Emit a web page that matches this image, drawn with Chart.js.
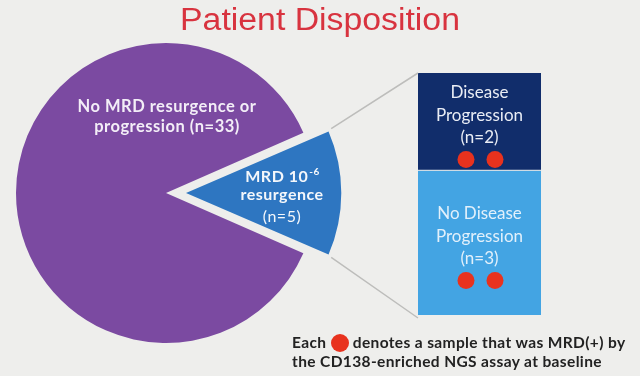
<!DOCTYPE html>
<html>
<head>
<meta charset="utf-8">
<script src="https://cdn.jsdelivr.net/npm/chart.js@4.4.0/dist/chart.umd.min.js"></script>
<style>
  html, body { margin: 0; padding: 0; background: #eeeeec; }
  #wrap { position: relative; width: 640px; height: 376px; overflow: hidden; background: #eeeeec; }
  canvas { position: absolute; left: 0; top: 0; }
  #titulo { position: absolute; left: 0; top: 4px; width: 640px; text-align: center;
    font-family: "Liberation Sans", Arial, sans-serif; font-size: 31px; line-height: 31px;
    color: #d8333f; transform: scaleX(1.09); }
  #nota { position: absolute; left: 292px; top: 333px; font-family: Lato, sans-serif;
    font-weight: bold; font-size: 15.5px; line-height: 19px; letter-spacing: 0.37px;
    color: #222; white-space: nowrap; }
  .ponto { display: inline-block; width: 18px; height: 18px; border-radius: 50%;
    background: #e8321e; vertical-align: -4px; }
</style>
</head>
<body>
<div id="wrap">
  <canvas id="barras" width="640" height="376"></canvas>
  <canvas id="pizza" width="640" height="376"></canvas>
  <div id="titulo">Patient Disposition</div>
  <div id="nota">Each <span class="ponto"></span> denotes a sample that was MRD(+) by<br>the CD138-enriched NGS assay at baseline</div>
</div>
<script>
// dados do gráfico
const pieLabels = ["No MRD resurgence or progression", "MRD 10⁻⁶ resurgence"];
const pieValues = [33, 5];
const barLabels = ["No Disease Progression", "Disease Progression"];
const barValues = [3, 2];
const mrdPositivos = [2, 2]; // pontos vermelhos em cada grupo

const totalPie = pieValues.reduce((a, b) => a + b, 0);
const totalBar = barValues.reduce((a, b) => a + b, 0);

// textos e pontos dentro das barras
const textoBarras = {
    id: "textoBarras",
    afterDatasetsDraw(chart) {
        const ctx = chart.ctx;
        const cores = ["#e2f0fb", "#e9edf5"];
        ctx.save();
        ctx.textAlign = "center";
        ctx.textBaseline = "middle";
        ctx.font = "17px Lato";
        chart.data.datasets.forEach((ds, i) => {
            const bar = chart.getDatasetMeta(i).data[0];
            const meio = (bar.y + bar.base) / 2;
            const palavras = ds.label.split(" ");
            const linhas = [
                palavras.slice(0, -1).join(" "),
                palavras[palavras.length - 1],
                "(n=" + ds.data[0] + ")"
            ];
            ctx.fillStyle = cores[i];
            linhas.forEach((t, k) => ctx.fillText(t, bar.x, meio - 6 + (k - 1) * 22.5));

            ctx.fillStyle = "#e8321e";
            const n = mrdPositivos[i];
            for (let k = 0; k < n; k++) {
                const px = bar.x + 1 + (k - (n - 1) / 2) * 29;
                ctx.beginPath();
                ctx.arc(px, meio + 38, 8.5, 0, Math.PI * 2);
                ctx.fill();
            }
        });
        ctx.restore();
    }
};

const barChart = new Chart(document.getElementById("barras"), {
    type: "bar",
    data: {
        labels: ["MRD resurgence"],
        datasets: [
            {
                label: barLabels[0],
                data: [barValues[0]],
                backgroundColor: "#43a4e3",
                borderColor: "#cfdbe4",
                borderWidth: { top: 1.5, right: 0, bottom: 0, left: 0 },
                borderSkipped: false,
                barPercentage: 1,
                categoryPercentage: 1
            },
            {
                label: barLabels[1],
                data: [barValues[1]],
                backgroundColor: "#112d6b",
                barPercentage: 1,
                categoryPercentage: 1
            }
        ]
    },
    options: {
        responsive: false,
        animation: false,
        layout: { padding: { left: 418, right: 99, top: 73, bottom: 61 } },
        scales: {
            x: { stacked: true, display: false },
            y: { stacked: true, display: false, min: 0, max: totalBar }
        },
        plugins: { legend: { display: false }, tooltip: { enabled: false } }
    },
    plugins: [textoBarras]
});

// cantos da fatia destacada
function cantosFatia(arc) {
    const off = (arc.options.offset || 0) / 4;
    const meioAng = (arc.startAngle + arc.endAngle) / 2;
    const ox = arc.x + Math.cos(meioAng) * off;
    const oy = arc.y + Math.sin(meioAng) * off;
    const fix = 1 - Math.sin(Math.min(Math.PI, arc.circumference));
    const r = arc.outerRadius + off * fix;
    return {
        ox, oy,
        cima: [ox + r * Math.cos(arc.startAngle), oy + r * Math.sin(arc.startAngle)],
        baixo: [ox + r * Math.cos(arc.endAngle), oy + r * Math.sin(arc.endAngle)]
    };
}

const conectores = {
    id: "conectores",
    afterDatasetsDraw(chart) {
        const ctx = chart.ctx;
        const c = cantosFatia(chart.getDatasetMeta(0).data[1]);
        const b0 = barChart.getDatasetMeta(0).data[0];
        const b1 = barChart.getDatasetMeta(1).data[0];
        const esq = b1.x - b1.width / 2;
        ctx.save();
        ctx.strokeStyle = "#bdbdbb";
        ctx.lineWidth = 1.5;
        ctx.beginPath();
        ctx.moveTo(c.cima[0] + 3, c.cima[1] - 2);
        ctx.lineTo(esq, b1.y);
        ctx.moveTo(c.baixo[0] + 3, c.baixo[1] + 2);
        ctx.lineTo(esq, b0.base + 3);
        ctx.stroke();
        ctx.restore();
    }
};

const textoPizza = {
    id: "textoPizza",
    afterDatasetsDraw(chart) {
        const ctx = chart.ctx;
        const roxo = chart.getDatasetMeta(0).data[0];
        ctx.save();
        ctx.textAlign = "center";
        ctx.textBaseline = "middle";
        ctx.letterSpacing = "0.5px";
        ctx.fillStyle = "#f3eef7";
        ctx.font = "bold 16.5px Lato";
        const palavras = pieLabels[0].split(" ");
        ctx.fillText(palavras.slice(0, 4).join(" "), roxo.x + 1, roxo.y - 86);
        ctx.fillText(palavras.slice(4).join(" ") + " (n=" + pieValues[0] + ")", roxo.x + 1, roxo.y - 66);

        const c = cantosFatia(chart.getDatasetMeta(0).data[1]);
        const cx = c.ox + 96;
        ctx.fillStyle = "#f4f7fb";
        ctx.font = "bold 16px Lato";
        const w1 = ctx.measureText("MRD 10").width;
        ctx.font = "bold 10px Lato";
        const w2 = ctx.measureText("-6").width;
        const x0 = cx - (w1 + w2) / 2;
        ctx.textAlign = "left";
        ctx.font = "bold 16px Lato";
        ctx.fillText("MRD 10", x0, c.oy - 16);
        ctx.font = "bold 10px Lato";
        ctx.fillText("-6", x0 + w1 + 1, c.oy - 21);
        ctx.textAlign = "center";
        ctx.font = "bold 16px Lato";
        ctx.fillText("resurgence", cx, c.oy + 2);
        ctx.font = "16px Lato";
        ctx.fillText("(n=" + pieValues[1] + ")", cx, c.oy + 24);
        ctx.restore();
    }
};

const pieChart = new Chart(document.getElementById("pizza"), {
    type: "pie",
    data: {
        labels: pieLabels,
        datasets: [{
            data: pieValues,
            backgroundColor: ["#7b4aa1", "#2e76c1"],
            borderWidth: 0,
            offset: [0, 80],
            clip: false
        }]
    },
    options: {
        responsive: false,
        animation: false,
        radius: 150,
        rotation: 90 + 180 * pieValues[1] / totalPie,
        layout: { padding: { left: 0, right: 308, top: 41, bottom: 31 } },
        plugins: { legend: { display: false }, tooltip: { enabled: false } }
    },
    plugins: [conectores, textoPizza]
});
</script>
</body>
</html>
